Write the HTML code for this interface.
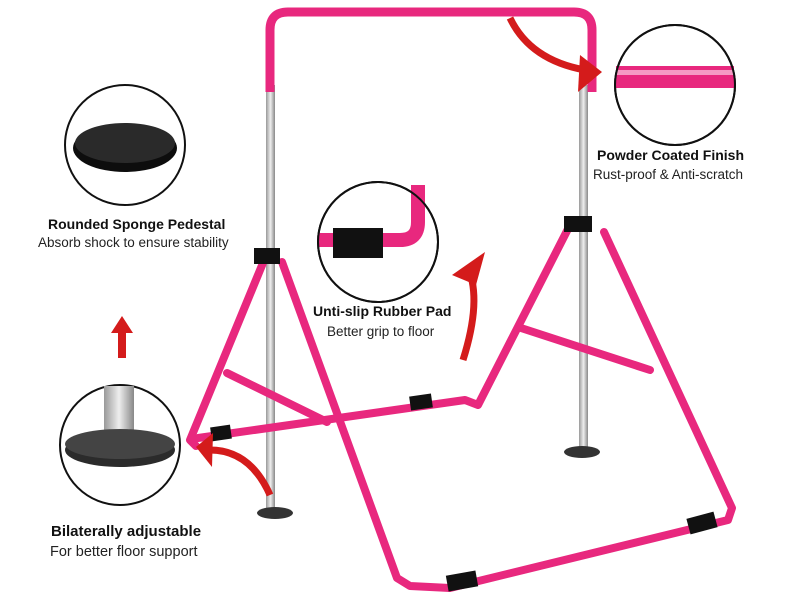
<!DOCTYPE html>
<html><head><style>
html,body{margin:0;padding:0;background:#fff;}
svg{display:block;}
text{font-family:"Liberation Sans",sans-serif;fill:#111;}
.b{font-weight:bold;font-size:14px;}
.n{font-size:13.5px;fill:#222;}
</style></head><body>
<svg width="800" height="599" viewBox="0 0 800 599" xmlns="http://www.w3.org/2000/svg">
<defs>
<linearGradient id="pole" x1="0" x2="1"><stop offset="0" stop-color="#999"/><stop offset="0.5" stop-color="#eee"/><stop offset="1" stop-color="#888"/></linearGradient>
</defs>
<!-- poles -->
<rect x="266" y="85" width="9" height="425" fill="url(#pole)"/>
<rect x="579" y="85" width="9" height="365" fill="url(#pole)"/>
<ellipse cx="275" cy="513" rx="18" ry="6" fill="#333"/>
<ellipse cx="582" cy="452" rx="18" ry="6" fill="#333"/>
<!-- top bar -->
<path d="M270 92 V30 Q270 12 288 12 H574 Q592 12 592 30 V92" fill="none" stroke="#e8287e" stroke-width="9"/>
<g fill="none" stroke="#e8287e" stroke-width="8" stroke-linejoin="round" stroke-linecap="round">
<!-- left A -->
<path d="M265 258 L190 440 L196 446"/>
<path d="M198 438 L465 400 L478 405 L570 225"/>
<path d="M282 262 L397 578 L410 586 L450 588 L728 520 L732 508 L604 232"/>
<path d="M227 373 L327 422"/>
<path d="M521 328 L650 370"/>
</g>
<!-- black pads -->
<g fill="#111">
<rect x="254" y="248" width="26" height="16"/>
<rect x="564" y="216" width="28" height="16"/>
<rect x="211" y="426" width="20" height="14" transform="rotate(-8 221 433)"/>
<rect x="410" y="395" width="22" height="14" transform="rotate(-8 421 402)"/>
<rect x="447" y="573" width="30" height="16" transform="rotate(-10 462 581)"/>
<rect x="688" y="515" width="28" height="16" transform="rotate(-15 702 523)"/>
</g>
<!-- circles -->
<circle cx="675" cy="85" r="60" fill="#fff" stroke="#111" stroke-width="2"/>
<rect x="616" y="66" width="118" height="22" fill="#e8287e"/>
<rect x="616" y="70" width="118" height="5" fill="#f59ac4"/>
<circle cx="675" cy="85" r="60" fill="none" stroke="#111" stroke-width="2"/>

<circle cx="125" cy="145" r="60" fill="#fff" stroke="#111" stroke-width="2"/>
<ellipse cx="125" cy="148" rx="52" ry="24" fill="#0d0d0d"/>
<ellipse cx="125" cy="143" rx="50" ry="20" fill="#2a2a2a"/>

<circle cx="378" cy="242" r="60" fill="#fff" stroke="#111" stroke-width="2"/>
<path d="M318 240 H400 Q418 240 418 222 V185" fill="none" stroke="#e8287e" stroke-width="14"/>
<rect x="333" y="228" width="50" height="30" fill="#111"/>
<circle cx="378" cy="242" r="60" fill="none" stroke="#111" stroke-width="2"/>

<circle cx="120" cy="445" r="60" fill="#fff" stroke="#111" stroke-width="2"/>
<rect x="104" y="386" width="30" height="50" fill="url(#pole)"/>
<ellipse cx="120" cy="450" rx="55" ry="17" fill="#2b2b2b"/>
<ellipse cx="120" cy="444" rx="55" ry="15" fill="#444"/>

<!-- red arrows -->
<path d="M510 18 Q530 60 585 70" fill="none" stroke="#d41b1b" stroke-width="7"/>
<polygon points="580,55 602,72 578,92" fill="#d41b1b"/>
<path d="M463 360 Q482 300 468 268" fill="none" stroke="#d41b1b" stroke-width="7"/>
<polygon points="452,275 485,252 476,285" fill="#d41b1b"/>
<path d="M270 495 Q250 450 210 450" fill="none" stroke="#d41b1b" stroke-width="7"/>
<polygon points="196,447 213,433 212,467" fill="#d41b1b"/>
<polygon points="122,316 133,333 126,333 126,358 118,358 118,333 111,333" fill="#d41b1b"/>

<!-- labels -->
<text class="b" x="597" y="160">Powder Coated Finish</text>
<text class="n" x="593" y="179">Rust-proof &amp; Anti-scratch</text>
<text class="b" x="48" y="229">Rounded Sponge Pedestal</text>
<text class="n" x="38" y="247">Absorb shock to ensure stability</text>
<text class="b" x="313" y="316">Unti-slip Rubber Pad</text>
<text class="n" x="327" y="336">Better grip to floor</text>
<text class="b" x="51" y="536" style="font-size:15px">Bilaterally adjustable</text>
<text class="n" x="50" y="556" style="font-size:14.5px">For better floor support</text>
</svg>
</body></html>
